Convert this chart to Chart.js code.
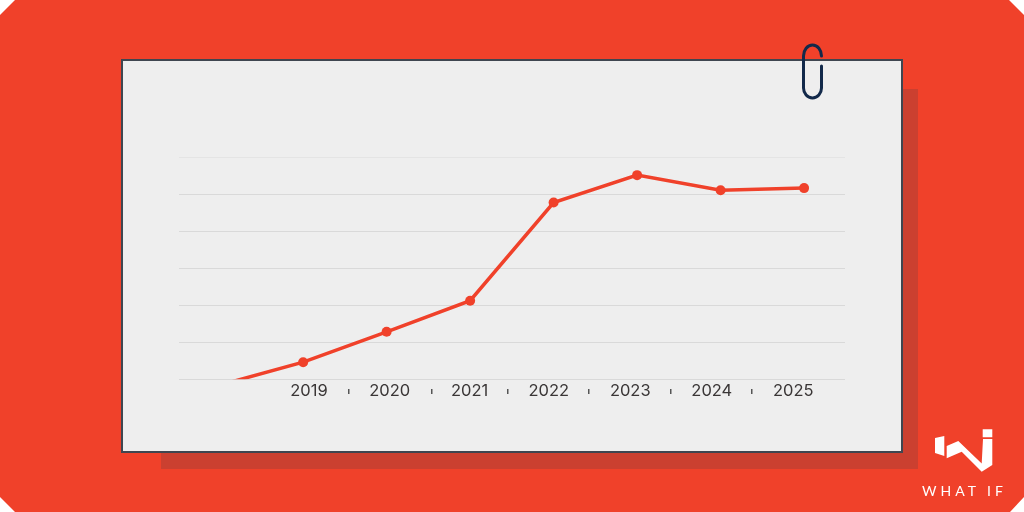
<!DOCTYPE html>
<html>
<head>
<meta charset="utf-8">
<script src="https://cdn.jsdelivr.net/npm/chart.js@4"></script>
<style>
    html, body { margin: 0; padding: 0; background: #fff; }
    #stage { position: relative; width: 1024px; height: 512px; overflow: hidden; background: #f0412a;
        clip-path: polygon(15px 0, 1009px 0, 1024px 15px, 1024px 497px, 1010px 512px, 15px 512px, 0 497px, 0 15px); }
    #shadow { position: absolute; left: 161px; top: 89px; width: 757px; height: 380px; background: #cb4030; }
    #card { position: absolute; left: 121px; top: 59px; width: 778px; height: 390px; background: #eeeeee; border: 2px solid #3f4650; box-sizing: content-box; }
    #chartBox { position: absolute; left: 0; top: 0; width: 1024px; height: 512px; }
    #deco { position: absolute; left: 0; top: 0; }
    #brand { position: absolute; left: 922px; top: 482px; color: #fff;
        font: 14px Lato, sans-serif; letter-spacing: 4px; white-space: nowrap; }
</style>
</head>
<body>
<div id="stage">
    <div id="shadow"></div>
    <div id="card"></div>
    <div id="chartBox"><canvas id="trendChart" width="1024" height="512"></canvas></div>
    <svg id="deco" width="1024" height="512">
        <path d="M821.5 56 A9 11 0 0 0 803.5 56 V88 A9 10 0 0 0 821.5 88 V66" fill="none" stroke="#12294a" stroke-width="3" stroke-linecap="round"/>
        <path fill="#fff" d="M935 438 L944.3 436 V456 L935 453 Z M946.7 446 L958.3 441 L981.7 463.5 L983 439 H992.3 V465 L981.7 471.7 L961.7 451.7 L946.7 458.3 Z M982.7 429.3 H992.3 V437.3 H982.7 Z"/>
    </svg>
    <div id="brand">WHAT IF</div>
</div>
<script>
const pointYears = [2018, 2019, 2020, 2021, 2022, 2023, 2024, 2025];
const pointValues = [-0.16, 0.46, 1.28, 2.12, 4.77, 5.51, 5.1, 5.16];
const labelYears = [2019, 2020, 2021, 2022, 2023, 2024, 2025];
// the labels in the picture are not quite evenly spaced
const labelPositions = [2019, 2020, 2020.99, 2021.97, 2022.98, 2023.99, 2025];
const separatorPositions = [2019.5, 2020.52, 2021.47, 2022.47, 2023.48, 2024.49];

const red = '#f0412a';

// little marks between the year labels
const separatorPlugin = {
    id: 'separators',
    afterDraw(chart) {
        const scale = chart.scales.labels;
        const ctx = chart.ctx;
        ctx.save();
        ctx.fillStyle = '#555555';
        separatorPositions.forEach(v => {
            ctx.fillRect(Math.round(scale.getPixelForValue(v)) - 1, 389, 1.5, 5);
        });
        ctx.restore();
    }
};

new Chart(document.getElementById('trendChart'), {
    type: 'line',
    data: {
        datasets: [{
            data: pointYears.map((year, i) => ({ x: year, y: pointValues[i] })),
            xAxisID: 'x',
            yAxisID: 'y',
            borderColor: red,
            backgroundColor: red,
            borderWidth: 3.5,
            pointRadius: 5,
            pointBackgroundColor: red,
            pointBorderWidth: 0,
            tension: 0
        }]
    },
    options: {
        responsive: false,
        animation: false,
        layout: { padding: { left: 179, right: 179, top: 157, bottom: 109 } },
        plugins: { legend: { display: false }, tooltip: { enabled: false } },
        scales: {
            x: {
                type: 'linear',
                display: false,
                min: 2017.513,
                max: 2025.49
            },
            labels: {
                type: 'linear',
                position: 'bottom',
                min: 2017.39,
                max: 2025.64,
                border: { display: false },
                grid: { display: false, drawTicks: false },
                afterBuildTicks: axis => { axis.ticks = labelPositions.map(v => ({ value: v })); },
                ticks: {
                    autoSkip: false,
                    maxRotation: 0,
                    padding: 2,
                    color: '#3a3636',
                    font: { family: 'Inter', size: 16.5 },
                    callback: (v, i) => String(labelYears[i])
                }
            },
            y: {
                min: 0,
                max: 6,
                border: { display: false },
                grid: {
                    drawTicks: false,
                    lineWidth: 1,
                    color: c => c.tick.value === 6 ? '#e4e4e4' : '#d9d9d9'
                },
                ticks: { display: false, stepSize: 1 }
            }
        }
    },
    plugins: [separatorPlugin]
});
</script>
</body>
</html>
